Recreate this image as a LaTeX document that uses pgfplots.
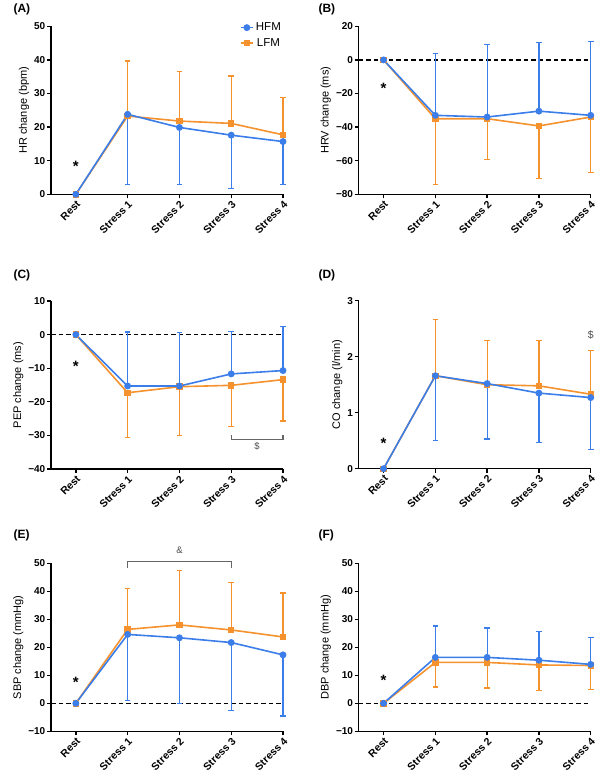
\documentclass[border=0pt]{standalone}
\usepackage{pgfplots}
\pgfplotsset{compat=1.18}
\usepackage{fontspec}
\setmainfont{Liberation Sans}
\definecolor{hfm}{HTML}{3B7DE9}
\definecolor{lfm}{HTML}{F5922E}
\tikzset{
 star/.style={font=\bfseries\fontsize{15}{15}\selectfont},
 ann/.style={font=\fontsize{9.5}{10}\selectfont, text=black!70},
 ptitle/.style={font=\bfseries\fontsize{12}{14}\selectfont, anchor=west},
}
\pgfplotsset{
 panel/.style={
   scale only axis, width=232pt, height=168pt,
   axis lines=left, axis line style={-, line width=1.3pt, black},
   xmin=-0.48, xmax=4,
   xtick={0,1,2,3,4}, xticklabels={Rest,Stress 1,Stress 2,Stress 3,Stress 4},
   x tick label style={rotate=45, anchor=north east, font=\bfseries\fontsize{10.5}{12}\selectfont, inner sep=1pt},
   y tick label style={font=\bfseries\fontsize{10}{12}\selectfont, inner sep=1.5pt},
   tick align=outside, major tick length=4pt, tick style={line width=1.3pt, black},
   ylabel style={font=\fontsize{11}{13}\selectfont},
   clip=false,
   /pgf/number format/assume math mode=true,
 },
 hfmst/.style={hfm, line width=1.6pt, mark=*, mark size=2.6pt, mark options={solid}},
 lfmst/.style={lfm, line width=1.6pt, mark=square*, mark size=2.4pt, mark options={solid}},
 hfmerr/.style={hfmst, error bars/y dir=#1, error bars/y explicit, error bars/error bar style={line width=1.2pt, hfm}, error bars/error mark options={rotate=90, mark size=2.8pt, line width=1.2pt, hfm}},
 lfmerr/.style={lfmst, error bars/y dir=#1, error bars/y explicit, error bars/error bar style={line width=1.2pt, lfm}, error bars/error mark options={rotate=90, mark size=2.8pt, line width=1.2pt, lfm}},
 zeroline/.style={black, line width=1.3pt, dash pattern=on 4.5pt off 3pt, forget plot},
}
\begin{document}
\begin{tikzpicture}
\useasboundingbox (0,0) rectangle (600pt,-782pt);
\node[ptitle] at (10pt,-9pt) {(A)};
\node[ptitle] at (315pt,-9pt) {(B)};
\node[ptitle] at (10pt,-275pt) {(C)};
\node[ptitle] at (315pt,-275pt) {(D)};
\node[ptitle] at (10pt,-535pt) {(E)};
\node[ptitle] at (315pt,-535pt) {(F)};

% (A) HR
\begin{axis}[panel, at={(51pt,-194.3pt)}, anchor=south west,
  ymin=0, ymax=50, ytick={0,10,20,30,40,50},
  ylabel={HR change (bpm)},
  legend style={draw=none, fill=none, at={(0.8,1.045)}, anchor=north west, font=\fontsize{11.5}{13}\selectfont, row sep=2pt},
  legend image code/.code={\draw[mark repeat=2,mark phase=2,#1] plot coordinates {(0cm,0cm) (0.22cm,0cm) (0.44cm,0cm)};}]
\addlegendimage{hfmst}\addlegendentry{HFM}
\addlegendimage{lfmst}\addlegendentry{LFM}
\addplot[forget plot, lfmerr=plus] coordinates {(0,0) (1,23.3) +- (0,16.4) (2,21.8) +- (0,14.8) (3,21.1) +- (0,14.1) (4,17.7) +- (0,11.2)};
\addplot[forget plot, hfmerr=minus] coordinates {(0,0) (1,23.8) +- (0,20.8) (2,19.9) +- (0,16.95) (3,17.6) +- (0,15.9) (4,15.7) +- (0,12.9)};
\node[star] at (axis cs:0,8.3) {*};
\end{axis}

% (B) HRV
\begin{axis}[panel, at={(358.7pt,-194.3pt)}, anchor=south west,
  ymin=-80, ymax=20, ytick={-80,-60,-40,-20,0,20},
  yticklabels={−80,−60,−40,−20,0,20},
  ylabel={HRV change (ms)}]
\addplot[zeroline] coordinates {(-0.48,0) (4,0)};
\addplot[lfmerr=minus] coordinates {(0,0) (1,-35) +- (0,39) (2,-35) +- (0,24.5) (3,-39.3) +- (0,31.4) (4,-34) +- (0,33)};
\addplot[hfmerr=plus] coordinates {(0,0) (1,-33) +- (0,36.8) (2,-34) +- (0,43) (3,-30.5) +- (0,40.9) (4,-33) +- (0,44)};
\node[star] at (axis cs:0,-17) {*};
\end{axis}

% (C) PEP
\begin{axis}[panel, at={(51pt,-469pt)}, anchor=south west,
  ymin=-40, ymax=10, ytick={-40,-30,-20,-10,0,10},
  yticklabels={−40,−30,−20,−10,0,10},
  ylabel={PEP change (ms)}]
\addplot[zeroline] coordinates {(-0.48,0) (4,0)};
\addplot[lfmerr=minus] coordinates {(0,0) (1,-17.3) +- (0,13.4) (2,-15.5) +- (0,14.5) (3,-15.1) +- (0,12.3) (4,-13.4) +- (0,12.3)};
\addplot[hfmerr=plus] coordinates {(0,0) (1,-15.3) +- (0,16.1) (2,-15.3) +- (0,15.9) (3,-11.7) +- (0,12.7) (4,-10.7) +- (0,13.0)};
\addplot[black!60, line width=1.1pt, forget plot] coordinates {(3,-29.9) (3,-31.2) (4,-31.2) (4,-29.9)};
\node[ann] at (axis cs:3.5,-33.3) {\$};
\node[star] at (axis cs:0,-9.3) {*};
\end{axis}

% (D) CO
\begin{axis}[panel, at={(358.7pt,-468.7pt)}, anchor=south west,
  ymin=0, ymax=3, ytick={0,1,2,3},
  ylabel={CO change (l/min)}]
\addplot[lfmerr=plus] coordinates {(0,0) (1,1.66) +- (0,1.01) (2,1.50) +- (0,0.79) (3,1.48) +- (0,0.81) (4,1.33) +- (0,0.78)};
\addplot[hfmerr=minus] coordinates {(0,0) (1,1.66) +- (0,1.16) (2,1.52) +- (0,0.99) (3,1.35) +- (0,0.88) (4,1.27) +- (0,0.93)};
\node[ann, font=\fontsize{10.5}{11}\selectfont] at (axis cs:4,2.38) {\$};
\node[star] at (axis cs:0,0.45) {*};
\end{axis}

% (E) SBP
\begin{axis}[panel, at={(51pt,-731.3pt)}, anchor=south west,
  ymin=-10, ymax=50, ytick={-10,0,10,20,30,40,50},
  yticklabels={−10,0,10,20,30,40,50},
  ylabel={SBP change (mmHg)}]
\addplot[zeroline] coordinates {(-0.48,0) (4,0)};
\addplot[lfmerr=plus] coordinates {(0,0) (1,26.4) +- (0,14.5) (2,28) +- (0,19.3) (3,26.2) +- (0,16.9) (4,23.7) +- (0,15.7)};
\addplot[hfmerr=minus] coordinates {(0,0) (1,24.6) +- (0,23.5) (2,23.4) +- (0,23.4) (3,21.7) +- (0,24.2) (4,17.3) +- (0,21.8)};
\addplot[black!60, line width=1.1pt, forget plot] coordinates {(1,48.2) (1,50.8) (3,50.8) (3,48.2)};
\node[ann] at (axis cs:2,54.7) {\&};
\node[star] at (axis cs:0,7.5) {*};
\end{axis}

% (F) DBP
\begin{axis}[panel, at={(358.7pt,-731.3pt)}, anchor=south west,
  ymin=-10, ymax=50, ytick={-10,0,10,20,30,40,50},
  yticklabels={−10,0,10,20,30,40,50},
  ylabel={DBP change (mmHg)}]
\addplot[zeroline] coordinates {(-0.48,0) (4,0)};
\addplot[lfmerr=minus] coordinates {(0,0) (1,14.6) +- (0,8.8) (2,14.6) +- (0,9.1) (3,13.7) +- (0,9.2) (4,13.5) +- (0,8.5)};
\addplot[hfmerr=plus] coordinates {(0,0) (1,16.4) +- (0,11.2) (2,16.4) +- (0,10.5) (3,15.4) +- (0,10.3) (4,13.9) +- (0,9.7)};
\node[star] at (axis cs:0,8.1) {*};
\end{axis}
\end{tikzpicture}
\end{document}
